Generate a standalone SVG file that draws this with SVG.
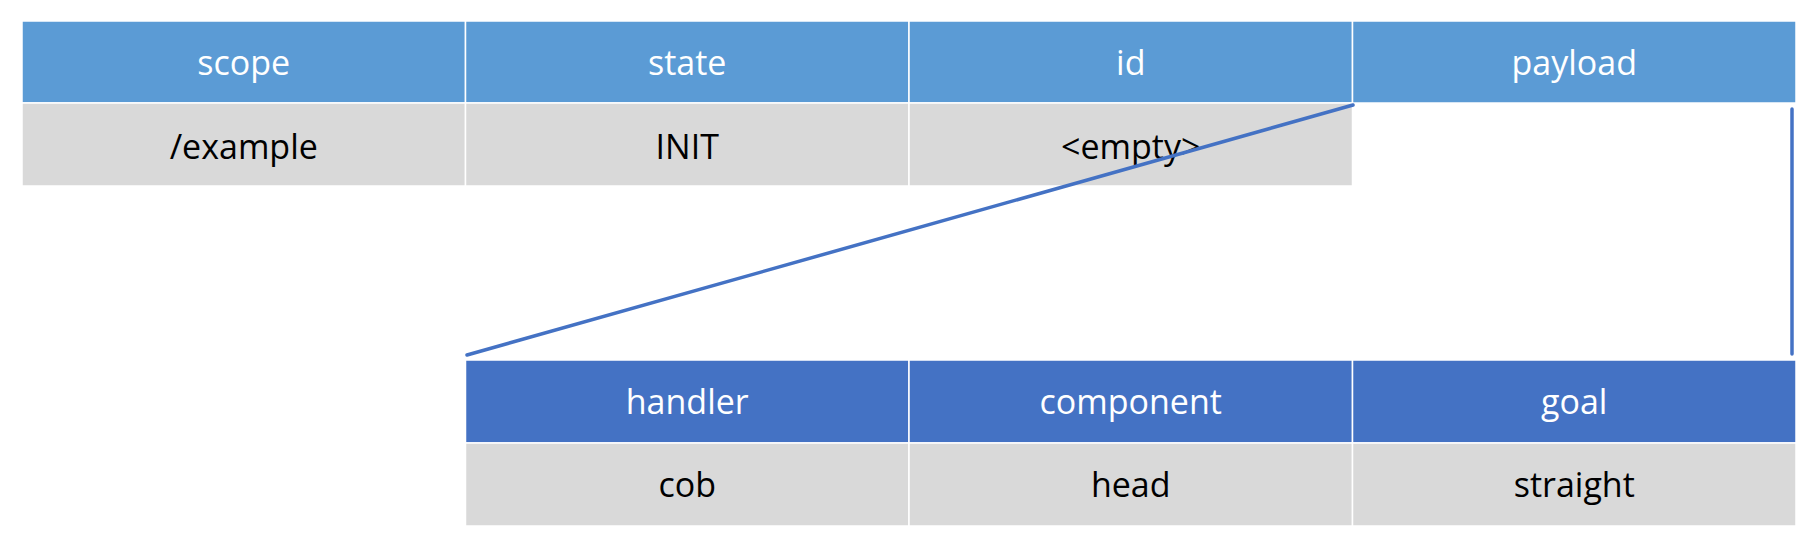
<svg xmlns="http://www.w3.org/2000/svg" width="1818" height="548" viewBox="0 0 1818 548">
<style>
.h1{fill:#5B9BD5;stroke:#FFFFFF;stroke-width:1.5}
.h2{fill:#4472C4;stroke:#FFFFFF;stroke-width:1.5}
.b{fill:#D9D9D9;stroke:#FFFFFF;stroke-width:1.5}
.th{font-family:"Open Sans","Liberation Sans",Arial,sans-serif;font-size:34px;fill:#FFFFFF;text-anchor:middle}
.td{font-family:"Open Sans","Liberation Sans",Arial,sans-serif;font-size:34px;fill:#000000;text-anchor:middle}
.conn{stroke:#4472C4;stroke-width:3.5;stroke-linecap:round;fill:none}
</style>
<rect width="1818" height="548" fill="#FFFFFF"/>
<g id="top-table">
<g id="scope"><rect class="h1" x="22" y="21" width="443.5" height="82"/><text class="th" x="243.75" y="75">scope</text>
<rect class="b" x="22" y="103" width="443.5" height="83"/><text class="td" x="243.75" y="159">/example</text></g>
<g id="state"><rect class="h1" x="465.5" y="21" width="443.5" height="82"/><text class="th" x="687.25" y="75">state</text>
<rect class="b" x="465.5" y="103" width="443.5" height="83"/><text class="td" x="687.25" y="159">INIT</text></g>
<g id="id"><rect class="h1" x="909" y="21" width="443.5" height="82"/><text class="th" x="1130.75" y="75">id</text>
<rect class="b" x="909" y="103" width="443.5" height="83"/><text class="td" x="1130.75" y="159">&lt;empty&gt;</text></g>
<g id="payload"><rect class="h1" x="1352.5" y="21" width="443.5" height="82"/><text class="th" x="1574.25" y="75">payload</text></g>
</g>
<g id="bottom-table">
<g id="handler"><rect class="h2" x="465.5" y="360" width="443.5" height="83"/><text class="th" x="687.25" y="414">handler</text>
<rect class="b" x="465.5" y="443" width="443.5" height="83"/><text class="td" x="687.25" y="497">cob</text></g>
<g id="component"><rect class="h2" x="909" y="360" width="443.5" height="83"/><text class="th" x="1130.75" y="414">component</text>
<rect class="b" x="909" y="443" width="443.5" height="83"/><text class="td" x="1130.75" y="497">head</text></g>
<g id="goal"><rect class="h2" x="1352.5" y="360" width="443.5" height="83"/><text class="th" x="1574.25" y="414">goal</text>
<rect class="b" x="1352.5" y="443" width="443.5" height="83"/><text class="td" x="1574.25" y="497">straight</text></g>
</g>
<g id="connectors">
<line class="conn" x1="1353" y1="105" x2="467" y2="355"/>
<line class="conn" x1="1792" y1="109" x2="1792" y2="354"/>
</g>
</svg>
